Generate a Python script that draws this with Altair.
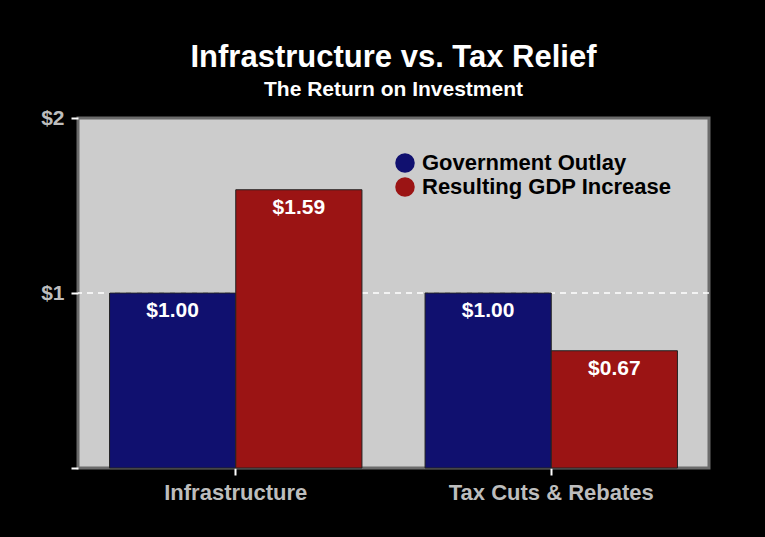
import altair as alt
import pandas as pd

categories = ["Infrastructure", "Tax Cuts & Rebates"]
series = ["Government Outlay", "Resulting GDP Increase"]
outlay = [1.00, 1.00]
gdp_increase = [1.59, 0.67]
bar_colors = ["#10106f", "#9b1414"]
ref_line = [1]

rows = []
for i, c in enumerate(categories):
    rows.append({"category": c, "series": series[0], "value": outlay[i]})
    rows.append({"category": c, "series": series[1], "value": gdp_increase[i]})
df = pd.DataFrame(rows)
df["label"] = df["value"].map(lambda v: f"${v:.2f}")

FONT = "Liberation Sans"

x_enc = alt.X(
    "category:N",
    sort=categories,
    scale=alt.Scale(paddingInner=0.2, paddingOuter=0.1),
    axis=alt.Axis(
        title=None, labelAngle=0, domain=False, ticks=True, tickColor="white",
        tickWidth=2, tickSize=7, labelPadding=7, labelColor="#bdbdbd",
        labelFont=FONT, labelFontSize=22, labelFontWeight="bold", labelLimit=400,
    ),
)
xo_enc = alt.XOffset("series:N", sort=series, scale=alt.Scale(paddingInner=0, paddingOuter=0))
y_axis = alt.Axis(
    title=None, values=[0, 1, 2], grid=False, domain=False, tickColor="white",
    tickWidth=2, tickSize=7, labelPadding=7, labelColor="#bdbdbd",
    labelFont=FONT, labelFontSize=21, labelFontWeight="bold",
    labelExpr="datum.value == 0 ? '' : '$' + datum.value",
)
y_scale = alt.Scale(domain=[0, 2], nice=False)

rule = alt.Chart(pd.DataFrame({"value": ref_line})).mark_rule(
    color="white", strokeDash=[6, 5], strokeWidth=1.5
).encode(y=alt.Y("value:Q", scale=y_scale, axis=y_axis))

bars = alt.Chart(df).mark_bar(stroke="#222222", strokeWidth=1).encode(
    x=x_enc,
    xOffset=xo_enc,
    y=alt.Y("value:Q", scale=y_scale, axis=y_axis),
    color=alt.Color(
        "series:N",
        sort=series,
        scale=alt.Scale(domain=series, range=bar_colors),
        legend=alt.Legend(
            title=None, orient="none", legendX=316, legendY=34,
            symbolType="circle", symbolSize=380, symbolStrokeWidth=0,
            labelFont=FONT, labelFontSize=22, labelFontWeight="bold",
            labelColor="black", labelOffset=6, rowPadding=2,
            labelLimit=400,
        ),
    ),
)

text = alt.Chart(df).mark_text(
    baseline="top", dy=7, color="white", font=FONT, fontSize=21, fontWeight="bold"
).encode(
    x=x_enc,
    xOffset=xo_enc,
    y=alt.Y("value:Q", scale=y_scale, axis=y_axis),
    text="label:N",
)

chart = alt.layer(rule, bars, text).properties(
    width=631,
    height=350,
    background="black",
    padding={"left": 78, "top": 118, "right": 56, "bottom": 69},
    autosize=alt.AutoSizeParams(type="none"),
    title=alt.Title(
        "Infrastructure vs. Tax Relief",
        subtitle="The Return on Investment",
        color="white", font=FONT, fontSize=31, fontWeight="bold",
        subtitleColor="white", subtitleFont=FONT, subtitleFontSize=21,
        subtitleFontWeight="bold", subtitlePadding=5,
        anchor="middle", offset=6,
    ),
).configure_view(
    fill="#cccccc", stroke="#6b6b6b", strokeWidth=3
)

chart.save("out.html", embed_options={"renderer": "svg", "actions": False})
